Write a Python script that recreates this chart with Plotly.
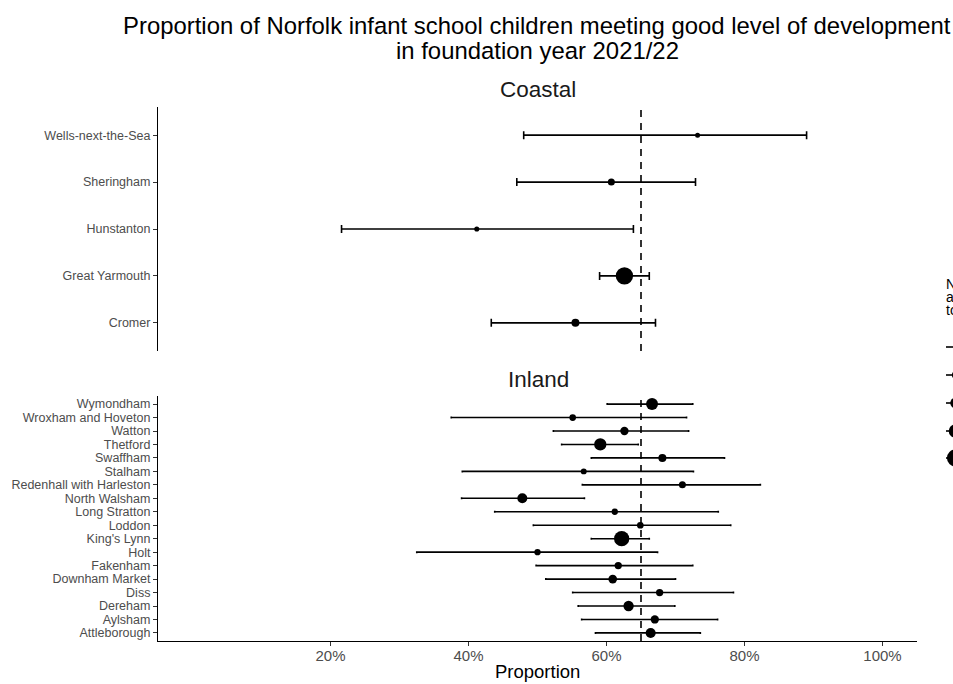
import numpy as np
import plotly.graph_objects as go

# ---------------- data ----------------
coastal_towns = ["Wells-next-the-Sea", "Sheringham", "Hunstanton", "Great Yarmouth", "Cromer"]
coastal_prop = [0.732, 0.607, 0.412, 0.626, 0.555]
coastal_lower = [0.480, 0.470, 0.216, 0.590, 0.433]
coastal_upper = [0.890, 0.729, 0.639, 0.662, 0.671]
coastal_n = [38, 93, 40, 770, 130]

inland_towns = ["Wymondham", "Wroxham and Hoveton", "Watton", "Thetford", "Swaffham", "Stalham",
                "Redenhall with Harleston", "North Walsham", "Long Stratton", "Loddon", "King's Lynn",
                "Holt", "Fakenham", "Downham Market", "Diss", "Dereham", "Aylsham", "Attleborough"]
inland_prop = [0.666, 0.551, 0.626, 0.591, 0.681, 0.567, 0.710, 0.478, 0.612, 0.649, 0.622,
               0.500, 0.617, 0.609, 0.677, 0.632, 0.670, 0.664]
inland_lower = [0.601, 0.375, 0.523, 0.535, 0.578, 0.391, 0.565, 0.390, 0.438, 0.494, 0.578,
                0.325, 0.498, 0.512, 0.551, 0.559, 0.564, 0.584]
inland_upper = [0.725, 0.716, 0.719, 0.646, 0.771, 0.726, 0.823, 0.568, 0.762, 0.780, 0.662,
                0.674, 0.725, 0.700, 0.784, 0.699, 0.761, 0.736]
inland_n = [339, 83, 142, 359, 130, 62, 93, 222, 71, 83, 586, 71, 104, 160, 104, 238, 142, 222]

england_average = 0.65
x_tick_values = [0.2, 0.4, 0.6, 0.8, 1.0]
x_tick_labels = ["20%", "40%", "60%", "80%", "100%"]
legend_breaks = [5, 100, 250, 450, 750]

title_line1 = "Proportion of Norfolk infant school children meeting good level of development"
title_line2 = "in foundation year 2021/22"
legend_title_lines = ["Number", "assessed", "total"]

# ---------------- helpers ----------------
W, H = 953, 684
FONT = "Liberation Sans, Arial, sans-serif"


def dot_size(n):
    return 1.5 + 0.57 * np.sqrt(np.asarray(n, dtype=float))


def py(p):
    return 1 - p / H


def px(p):
    return p / W


x_dom = [px(158), px(917)]
coastal_dom = [py(351), py(107)]
inland_dom = [py(641), py(396)]

fig = go.Figure()

cp, cl, cu = map(np.array, (coastal_prop, coastal_lower, coastal_upper))
fig.add_trace(go.Scatter(
    x=cp, y=coastal_towns, mode="markers", opacity=1,
    marker=dict(color="#000000", opacity=1, size=dot_size(coastal_n),
                line=dict(width=0, color="#000000")),
    error_x=dict(type="data", symmetric=False, array=cu - cp, arrayminus=cp - cl,
                 color="#000000", thickness=1.6, width=4),
    xaxis="x2", yaxis="y", showlegend=False, hoverinfo="x+y"))

ip, il, iu = map(np.array, (inland_prop, inland_lower, inland_upper))
fig.add_trace(go.Scatter(
    x=ip, y=inland_towns, mode="markers", opacity=1,
    marker=dict(color="#000000", opacity=1, size=dot_size(inland_n),
                line=dict(width=0, color="#000000")),
    error_x=dict(type="data", symmetric=False, array=iu - ip, arrayminus=ip - il,
                 color="#000000", thickness=1.6, width=1),
    xaxis="x", yaxis="y2", showlegend=False, hoverinfo="x+y"))

tick_font = dict(family=FONT, size=12.5, color="#4D4D4D")
common_y = dict(type="category", categoryorder="array", showline=True, linecolor="black",
                linewidth=1.2, ticks="outside", ticklen=4, tickcolor="#333333", tickwidth=1,
                showgrid=False, zeroline=False, automargin=False, tickfont=tick_font,
                fixedrange=True, tickmode="array")

fig.update_layout(
    width=W, height=H,
    margin=dict(l=0, r=0, t=0, b=0, pad=0),
    paper_bgcolor="white", plot_bgcolor="rgba(0,0,0,0)",
    font=dict(family=FONT, color="black"),
    showlegend=False,
    xaxis=dict(domain=x_dom, range=[-0.05, 1.05], anchor="y2", showline=True,
               linecolor="black", linewidth=1.2, ticks="outside", ticklen=4,
               tickcolor="#333333", tickwidth=1, tickvals=x_tick_values,
               ticktext=x_tick_labels, tickfont=dict(family=FONT, size=15, color="#4D4D4D"),
               ticklabelstandoff=-3,
               showgrid=False, zeroline=False, automargin=False, fixedrange=True),
    xaxis2=dict(domain=x_dom, matches="x", anchor="y", visible=False, showgrid=False,
                zeroline=False),
    yaxis=dict(domain=coastal_dom, anchor="x2", categoryarray=coastal_towns[::-1],
               tickvals=coastal_towns, ticktext=coastal_towns,
               range=[-0.6, len(coastal_towns) - 0.4], **common_y),
    yaxis2=dict(domain=inland_dom, anchor="x", categoryarray=inland_towns[::-1],
                tickvals=inland_towns, ticktext=inland_towns,
                range=[-0.6, len(inland_towns) - 0.4], **common_y),
)

dash = "7px,6px"
fig.add_shape(type="line", xref="x2", yref="y domain", x0=england_average, x1=england_average,
              y0=0, y1=1, line=dict(color="black", width=1.6, dash=dash), layer="below")
fig.add_shape(type="line", xref="x", yref="y2 domain", x0=england_average, x1=england_average,
              y0=0, y1=1, line=dict(color="black", width=1.6, dash=dash), layer="below")

# size legend keys (partially cut off at the right edge, as in the reference)
leg_y = [347, 375, 403, 431, 458]
leg_cx = 955.5
for yy, d in zip(leg_y, dot_size(legend_breaks)):
    fig.add_shape(type="line", xref="paper", yref="paper", x0=px(946), x1=px(970),
                  y0=py(yy), y1=py(yy), line=dict(color="black", width=1.6))
    r = float(d) / 2
    fig.add_shape(type="circle", xref="paper", yref="paper",
                  xsizemode="pixel", ysizemode="pixel",
                  xanchor=px(leg_cx), yanchor=py(yy), x0=-r, x1=r, y0=-r, y1=r,
                  fillcolor="black", line=dict(width=0, color="black"))

ann = []
ann.append(dict(text=title_line1, x=px(537), y=py(25), xref="paper", yref="paper",
                xanchor="center", yanchor="middle", showarrow=False,
                font=dict(family=FONT, size=23.9, color="black")))
ann.append(dict(text=title_line2, x=px(537), y=py(50.5), xref="paper", yref="paper",
                xanchor="center", yanchor="middle", showarrow=False,
                font=dict(family=FONT, size=23.9, color="black")))
ann.append(dict(text="Coastal", x=px(538), y=py(90), xref="paper", yref="paper",
                xanchor="center", yanchor="middle", showarrow=False,
                font=dict(family=FONT, size=22.5, color="#1A1A1A")))
ann.append(dict(text="Inland", x=px(538), y=py(379), xref="paper", yref="paper",
                xanchor="center", yanchor="middle", showarrow=False,
                font=dict(family=FONT, size=22.5, color="#1A1A1A")))
ann.append(dict(text="Proportion", x=px(537), y=0, xref="paper", yref="paper",
                xanchor="center", yanchor="bottom", showarrow=False,
                font=dict(family=FONT, size=18.5, color="black")))
for i, t in enumerate(legend_title_lines):
    ann.append(dict(text=t, x=px(944), y=py(284 + 12.8 * i), xref="paper", yref="paper",
                    xanchor="left", yanchor="middle", showarrow=False,
                    font=dict(family=FONT, size=14, color="black")))
fig.update_layout(annotations=ann)

fig.write_html("out.html")
